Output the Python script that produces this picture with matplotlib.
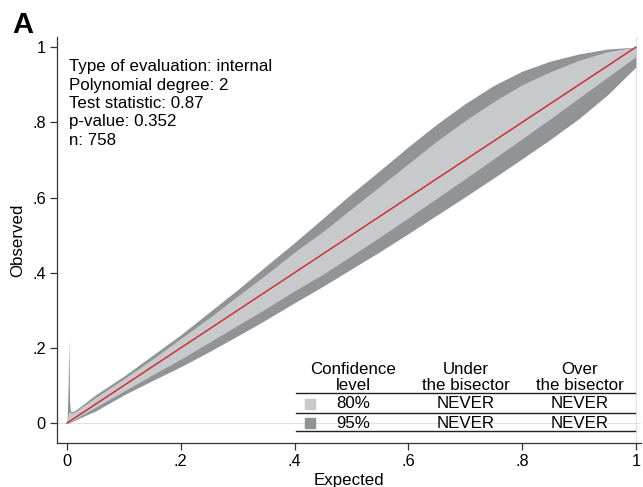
import numpy as np
import matplotlib
matplotlib.use("Agg")
import matplotlib.pyplot as plt

plt.rcParams["font.family"] = ["Liberation Sans", "DejaVu Sans"]

# calibration band (expected vs observed)
expected = [0.0, 0.002, 0.0033, 0.0045, 0.006, 0.01, 0.02,
            0.05, 0.1, 0.15, 0.2, 0.25, 0.3, 0.35, 0.4, 0.45, 0.5,
            0.55, 0.6, 0.65, 0.7, 0.75, 0.8, 0.85, 0.9, 0.95, 1.0]
upper95 = [0.0, 0.10, 0.226, 0.06, 0.032, 0.030, 0.040,
           0.075, 0.125, 0.18, 0.235, 0.295, 0.355, 0.418, 0.48, 0.545, 0.61,
           0.672, 0.735, 0.795, 0.85, 0.898, 0.936, 0.963, 0.982, 0.995, 1.0]
upper80 = [0.0, 0.02, 0.030, 0.030, 0.028, 0.027, 0.036,
           0.068, 0.118, 0.17, 0.225, 0.28, 0.338, 0.395, 0.455, 0.51, 0.57,
           0.63, 0.69, 0.75, 0.805, 0.855, 0.90, 0.935, 0.965, 0.988, 1.0]
lower80 = [0.0, 0.0, 0.0, 0.002, 0.004, 0.007, 0.016,
           0.042, 0.085, 0.128, 0.17, 0.215, 0.26, 0.305, 0.352, 0.396, 0.445,
           0.495, 0.546, 0.598, 0.65, 0.703, 0.756, 0.81, 0.865, 0.92, 0.975]
lower95 = [0.0, 0.0, 0.0, 0.001, 0.002, 0.005, 0.012,
           0.032, 0.075, 0.113, 0.15, 0.19, 0.232, 0.275, 0.32, 0.364, 0.41,
           0.456, 0.504, 0.553, 0.602, 0.652, 0.703, 0.755, 0.81, 0.873, 0.947]

info_lines = ["Type of evaluation: internal", "Polynomial degree: 2",
              "Test statistic: 0.87", "p-value: 0.352", "n: 758"]
conf_levels = ["80%", "95%"]
under_bisector = ["NEVER", "NEVER"]
over_bisector = ["NEVER", "NEVER"]

light = "#c8c9cb"
dark = "#929396"
red = "#c8323c"
fs = 12.2

fig = plt.figure(figsize=(6.43, 4.87), dpi=100)
ax = fig.add_axes([57 / 643, 44 / 487, 584 / 643, 406 / 487])

ax.axhline(0, color="#e2e2e2", lw=0.8, zorder=0)
ax.axvline(1, color="#e2e2e2", lw=0.8, zorder=0)
ax.fill_between(expected, lower95, upper95, color=dark, lw=0, zorder=1)
ax.fill_between(expected, lower80, upper80, color=light, lw=0, zorder=2)
ax.plot([0, 1], [0, 1], color=red, lw=1.1, zorder=3)

ax.set_xlim(-0.0176, 1.009)
ax.set_ylim(-0.053, 1.027)
ticks = [0, 0.2, 0.4, 0.6, 0.8, 1]
labels = ["0", ".2", ".4", ".6", ".8", "1"]
ax.set_xticks(ticks, labels)
ax.set_yticks(ticks, labels)
ax.tick_params(direction="out", length=5, width=0.9, labelsize=11.8, pad=3, color="#333333")
for side in ["top", "right"]:
    ax.spines[side].set_visible(False)
for side in ["left", "bottom"]:
    ax.spines[side].set_linewidth(0.9)
    ax.spines[side].set_color("#333333")
ax.set_xlabel("Expected", fontsize=fs, labelpad=3)
ax.set_ylabel("Observed", fontsize=fs, labelpad=5)

ax.text(0.021, 0.945, "\n".join(info_lines), transform=ax.transAxes, fontsize=fs,
        va="top", ha="left", linespacing=1.28)

fig.text(12 / 643, 1 - 33 / 487, "A", fontsize=21, fontweight="bold", ha="left", va="baseline")

# legend table
def fx(px):
    return (px - 57) / 584

def fy(py):
    return (443 - py) / 406

cols = [fx(353), fx(466), fx(580)]
heads = [("Confidence", "level"), ("Under", "the bisector"), ("Over", "the bisector")]
for c, (h1, h2) in zip(cols, heads):
    ax.text(c, fy(370), h1, transform=ax.transAxes, ha="center", va="center", fontsize=fs)
    ax.text(c, fy(386), h2, transform=ax.transAxes, ha="center", va="center", fontsize=fs)
for py in [393, 413, 431]:
    ax.plot([fx(296), fx(635)], [fy(py), fy(py)], transform=ax.transAxes, color="#222222",
            lw=1.0, clip_on=False, zorder=5)
row_y = [fy(404), fy(423)]
for ry, lvl, un, ov, col in zip(row_y, conf_levels, under_bisector, over_bisector, [light, dark]):
    ax.plot(fx(310), ry, marker="s", ms=6.5, color=col, transform=ax.transAxes, clip_on=False)
    ax.text(cols[0], ry, lvl, transform=ax.transAxes, ha="center", va="center", fontsize=fs)
    ax.text(cols[1], ry, un, transform=ax.transAxes, ha="center", va="center", fontsize=fs)
    ax.text(cols[2], ry, ov, transform=ax.transAxes, ha="center", va="center", fontsize=fs)

fig.savefig("out.png", dpi=100)
